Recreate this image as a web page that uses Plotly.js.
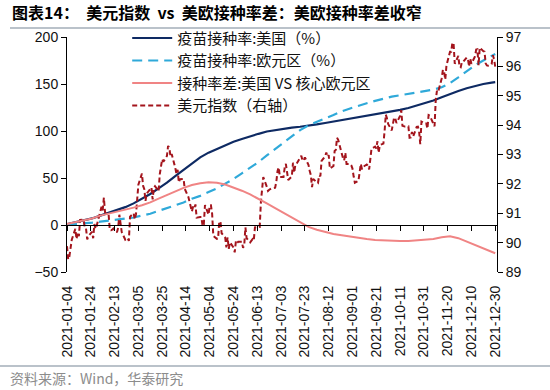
<!DOCTYPE html>
<html>
<head>
<meta charset="utf-8">
<script src="https://cdn.plot.ly/plotly-3.0.1.min.js"></script>
<style>html,body{margin:0;padding:0;background:#fff;}#chart{width:550px;height:390px;}</style>
</head>
<body>
<div id="chart"></div>
<script>
// Weekly vaccination observations (doses per 100 people) and gap
const vacDates = ["2021-01-04","2021-01-11","2021-01-18","2021-01-25","2021-02-01","2021-02-08","2021-02-15","2021-02-22",
"2021-03-01","2021-03-08","2021-03-15","2021-03-22","2021-03-29","2021-04-05","2021-04-12","2021-04-19","2021-04-26",
"2021-05-03","2021-05-10","2021-05-17","2021-05-24","2021-05-31","2021-06-07","2021-06-14","2021-06-21","2021-06-28",
"2021-07-05","2021-07-12","2021-07-19","2021-07-26","2021-08-02","2021-08-09","2021-08-16","2021-08-23","2021-08-30",
"2021-09-06","2021-09-13","2021-09-20","2021-09-27","2021-10-04","2021-10-11","2021-10-18","2021-10-25","2021-11-01",
"2021-11-08","2021-11-15","2021-11-22","2021-11-29","2021-12-06","2021-12-13","2021-12-20","2021-12-27","2021-12-30"];
const usRate = [1,3,5,7,10,13,16,19,23,28,33,39,45,52,59,66,72,77,81,85,88.5,91.5,94.5,97,99.5,101,102.5,103.5,104.5,105.5,
107,108.5,110,111.5,113,114.5,116,117.5,119.5,121,122.5,124.5,127,129.5,132.5,136,139.5,142.5,145.5,148,150,151.5,152];
const euRate = [0.5,1,1.5,2.5,3.5,4.5,5.5,6.5,8,10,12,15,18,21,24,28,31,35,39,44,49,55,61,67,74,81,88,95,101,106,
110,113.5,117,121,124,127,129.5,132,134.5,136.5,138,139.5,141,142.5,144,146.5,151,157,164,170,175,180,182];
const rateGap = [1,3,5,7,10,12,14,16,18.5,21,24,28,32,36,39.5,42.5,44.5,45.5,45,43,40,36.5,32.5,28,23,18,13,8,2.5,-2,
-5,-7.5,-9.5,-11,-12.5,-14,-15,-16,-16.5,-17,-17,-17,-16.5,-16,-15,-13,-12,-14,-17.5,-21,-24.5,-28.5,-30];

// US dollar index, trading days (Mon-Fri) from 2021-01-04 to 2021-12-30
const dxyStart = "2021-01-04";
const dxy = [
89.88,89.43,89.53,89.83,90.10, 90.47,90.12,90.36,90.22,90.77, 90.78,90.50,90.48,90.11,90.22, 90.37,90.15,90.63,90.47,90.58,
91.03,91.22,91.10,91.53,91.03, 90.95,90.43,90.42,90.44,90.48, 90.35,90.50,90.95,90.57,90.36, 90.10,90.14,90.16,90.06,90.88,
91.00,90.79,90.97,91.62,91.97, 92.35,91.93,91.82,91.42,91.67, 91.83,91.88,91.47,91.86,91.92, 91.75,92.33,92.55,92.84,92.75,
92.95,93.29,93.23,92.93,93.02, 92.55,92.34,92.48,92.05,92.16, 92.17,91.83,91.70,91.65,91.56, 91.06,91.23,91.17,91.30,90.85,
90.87,90.87,90.56,90.61,91.28, 90.95,91.27,91.27,90.99,90.23, 90.13,90.14,90.71,90.72,90.32, 90.17,89.84,90.18,89.79,90.01,
89.83,89.67,90.06,89.99,90.03, 90.03,89.82,89.91,90.52,90.15, 90.01,90.09,90.12,90.07,90.52, 90.53,90.53,91.38,91.89,92.23,
91.90,91.76,91.80,91.82,91.85, 91.87,92.08,92.44,92.56,92.23, 92.23,92.55,92.68,92.40,92.13, 92.25,92.72,92.38,92.66,92.68,
92.89,92.96,92.79,92.80,92.90, 92.65,92.45,92.30,91.89,92.17, 92.05,92.03,92.29,92.26,92.78, 92.94,93.07,92.92,92.98,92.52,
92.61,93.12,93.16,93.57,93.50, 92.96,92.88,92.80,93.06,92.68, 92.68,92.63,92.52,92.25,92.04, 92.10,92.52,92.68,92.50,92.58,
92.66,92.62,92.49,92.86,93.20, 93.27,93.21,93.45,93.06,93.32, 93.37,93.79,94.36,94.23,94.04, 93.82,93.99,94.26,94.22,94.07,
94.31,94.51,93.98,93.96,93.95, 93.96,93.57,93.58,93.77,93.61, 93.94,93.95,93.79,93.35,94.12, 94.05,94.06,93.88,94.34,94.32,
94.04,93.96,94.86,95.17,95.12, 95.59,95.88,95.83,95.55,96.03, 96.50,96.50,96.81,96.78,96.09, 96.36,95.99,95.97,96.15,96.15,
96.30,96.28,95.99,96.27,96.09, 96.34,96.57,96.58,96.04,96.64, 96.52,96.50,96.10,96.03,96.02, 96.08,96.38,96.25,95.99];

const tickDates = ["2021-01-04","2021-01-24","2021-02-13","2021-03-05","2021-03-25","2021-04-14","2021-05-04","2021-05-24",
"2021-06-13","2021-07-03","2021-07-23","2021-08-12","2021-09-01","2021-09-21","2021-10-11","2021-10-31","2021-11-20",
"2021-12-10","2021-12-30"];

const names = ["疫苗接种率:美国（%）","疫苗接种率:欧元区（%）","接种率差:美国 VS 核心欧元区","美元指数（右轴）"];

// trading-day dates for dxy
function weekdays(start, n){
  const out=[]; const d=new Date(start+"T00:00:00Z");
  while(out.length<n){
    const wd=d.getUTCDay();
    if(wd!==0 && wd!==6) out.push(d.toISOString().slice(0,10));
    d.setUTCDate(d.getUTCDate()+1);
  }
  return out;
}
const dxyDates = weekdays(dxyStart, dxy.length);

const xRange = ["2021-01-04","2021-12-31 12:00"];
const tickFont = {family:"Liberation Sans, Arial, sans-serif", size:14, color:"#111"};

const traces = [
  {x:vacDates, y:usRate, name:names[0], type:"scatter", mode:"lines", line:{color:"#0E2A63", width:2.2}},
  {x:vacDates, y:euRate, name:names[1], type:"scatter", mode:"lines", line:{color:"#2FA9D9", width:2.2, dash:"10px,6px"}},
  {x:vacDates, y:rateGap, name:names[2], type:"scatter", mode:"lines", xaxis:"x2", line:{color:"#F08484", width:2}},
  {x:dxyDates, y:dxy, name:names[3], type:"scatter", mode:"lines", yaxis:"y2", line:{color:"#A3141C", width:2, dash:"5px,3px"}}
];

const layout = {
  width:550, height:390,
  margin:{l:67, r:53, t:37, b:118},
  paper_bgcolor:"#fff", plot_bgcolor:"#fff",
  showlegend:true,
  title:{text:"<b>图表14：  美元指数  vs  美欧接种率差：美欧接种率差收窄</b>", xref:"container", yref:"container",
    x:12/550, xanchor:"left", y:1-13/390, yanchor:"middle",
    font:{family:"Noto Sans CJK SC, sans-serif", size:16, color:"#000"}},
  legend:{x:0.14, y:1.065, xanchor:"left", yanchor:"top", bgcolor:"rgba(0,0,0,0)",
    font:{family:"Noto Sans CJK SC, sans-serif", size:15, color:"#111"}, tracegroupgap:0, itemwidth:40},
  xaxis:{type:"date", range:xRange, tickvals:tickDates, tickformat:"%Y-%m-%d", tickangle:-90,
    showline:false, ticks:"", showgrid:false, zeroline:false, tickfont:tickFont, ticklabelstandoff:10},
  xaxis2:{type:"date", range:xRange, overlaying:"x", anchor:"free", position:0.2, side:"bottom",
    tickvals:tickDates, showticklabels:false, showline:true, linecolor:"#000", linewidth:1,
    ticks:"outside", ticklen:5, tickcolor:"#000", showgrid:false, zeroline:false},
  yaxis:{range:[-50,200], dtick:50, showline:true, linecolor:"#000", linewidth:1, ticks:"outside", ticklen:5,
    tickcolor:"#000", showgrid:false, zeroline:false, tickfont:tickFont},
  yaxis2:{range:[89,97], dtick:1, overlaying:"y", side:"right", showline:true, linecolor:"#000", linewidth:1,
    ticks:"outside", ticklen:5, tickcolor:"#000", showgrid:false, zeroline:false, tickfont:tickFont},
  shapes:[
    {type:"line", xref:"paper", yref:"paper", x0:(10-67)/430, x1:(550-67)/430, y0:(272-28)/235, y1:(272-28)/235,
      line:{color:"#A3AEB8", width:1.5}},
    {type:"line", xref:"paper", yref:"paper", x0:(0-67)/430, x1:(550-67)/430, y0:(272-366)/235, y1:(272-366)/235,
      line:{color:"#A3AEB8", width:1.5}}
  ],
  annotations:[
    {text:"资料来源：Wind，华泰研究", xref:"paper", yref:"paper", x:(8-67)/430, y:(272-378)/235,
      xanchor:"left", yanchor:"middle", showarrow:false,
      font:{family:"Noto Sans CJK SC, sans-serif", size:14, color:"#8C8C8C"}}
  ]
};

Plotly.newPlot("chart", traces, layout, {staticPlot:true, displayModeBar:false});
</script>
</body>
</html>
